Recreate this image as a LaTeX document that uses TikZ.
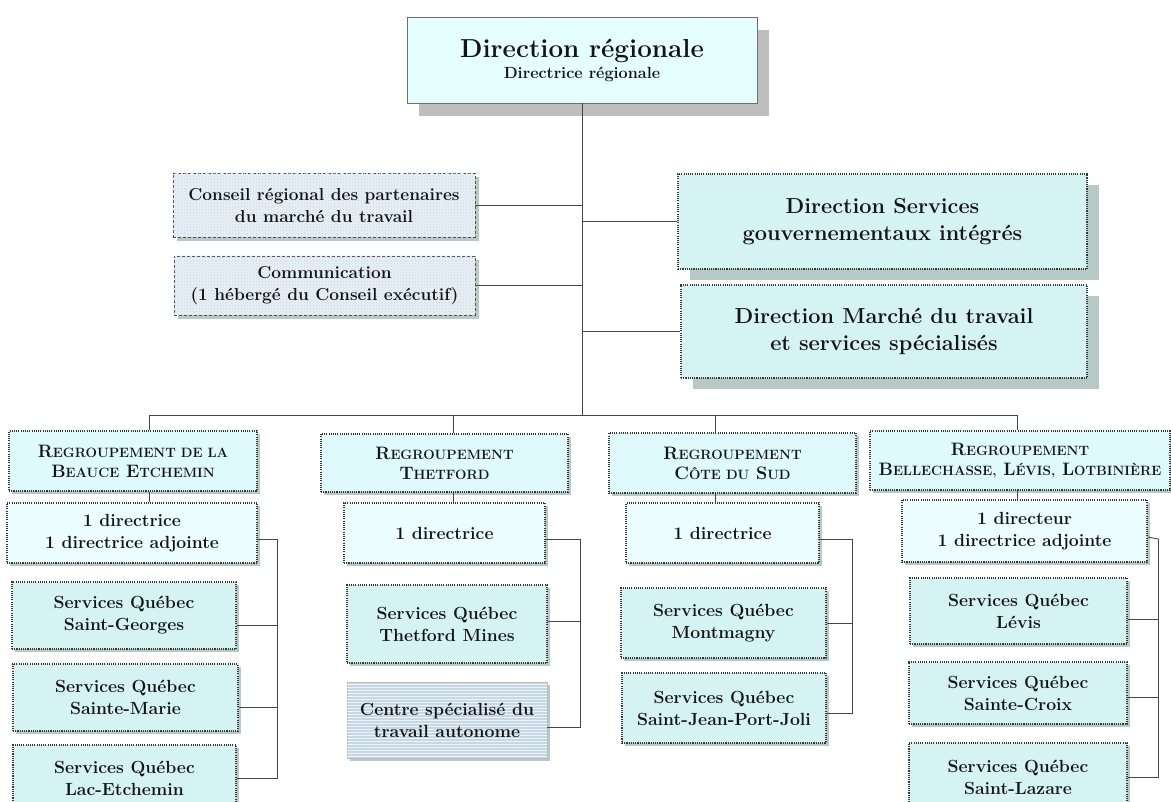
\documentclass[tikz,border=0pt]{standalone}
\usepackage{tikz}
\usetikzlibrary{calc,shadows,patterns}
\definecolor{ink}{RGB}{20,20,20}
\definecolor{linecol}{RGB}{70,70,70}
\definecolor{frame}{RGB}{110,110,110}
\definecolor{topfill}{RGB}{229,255,255}
\definecolor{headfill}{RGB}{222,250,252}
\definecolor{subfill}{RGB}{236,254,255}
\definecolor{svcfill}{RGB}{214,243,243}
\definecolor{sidefill}{RGB}{232,240,245}
\definecolor{dotblue}{RGB}{196,212,228}
\definecolor{stripefill}{RGB}{198,216,230}
\definecolor{greyshade}{RGB}{190,190,190}
\definecolor{greenshade}{RGB}{184,202,198}
\newcommand{\capsm}[1]{{\fontsize{13.5}{20}\selectfont #1}}
\tikzset{
  wire/.style={draw=linecol,line width=0.9pt},
  wh/.style 2 args={minimum width=#1,minimum height=#2},
  box/.style={align=center,text=ink,inner sep=0pt,
    font=\bfseries\fontsize{17.6}{22}\selectfont},
  dots/.style={draw=ink!85,line width=1.1pt,dash pattern=on 1.1pt off 1.1pt},
  topbox/.style={box,draw=frame,fill=topfill,line width=0.7pt,
    drop shadow={shadow xshift=12pt,shadow yshift=-13pt,fill=greyshade,opacity=1}},
  dirbox/.style={box,dots,fill=svcfill,font=\bfseries\fontsize{21.7}{27}\selectfont,
    drop shadow={shadow xshift=12pt,shadow yshift=-11pt,fill=greenshade,opacity=1}},
  sidebox/.style={box,draw=ink!75,line width=0.8pt,dash pattern=on 3pt off 2pt,
    fill=sidefill,postaction={pattern=crosshatch dots,pattern color=dotblue},
    font=\bfseries\fontsize{17.3}{22}\selectfont,
    drop shadow={shadow xshift=4pt,shadow yshift=-4pt,fill=greenshade,opacity=1}},
  headbox/.style={box,dots,fill=headfill,font=\bfseries\fontsize{18}{20}\selectfont,
    drop shadow={shadow xshift=3pt,shadow yshift=-3pt,fill=greenshade,opacity=1}},
  subbox/.style={box,dots,fill=subfill,
    drop shadow={shadow xshift=3pt,shadow yshift=-3pt,fill=greenshade,opacity=1}},
  svcbox/.style={box,dots,fill=svcfill,
    drop shadow={shadow xshift=3pt,shadow yshift=-3pt,fill=greenshade,opacity=1}},
  centrebox/.style={box,draw=stripefill!70!gray,line width=0.6pt,fill=stripefill,
    postaction={pattern=horizontal lines,pattern color=white!70!stripefill},
    drop shadow={shadow xshift=3pt,shadow yshift=-3pt,fill=greenshade,opacity=1}}
}
\begin{document}
\begin{tikzpicture}[x=1pt,y=-1pt]
  \useasboundingbox (0,0) rectangle (1171,802);
  \clip (0,0) rectangle (1171,802);
  % direction
  \node[topbox,wh={350}{86}] (top) at (582,60)
    {{\fontsize{26}{30}\selectfont Direction régionale}\\[-1pt]
     {\fontsize{16.2}{20}\selectfont Directrice régionale}};
  \node[sidebox,wh={302}{64}] (cons) at (324,205)
    {Conseil régional des partenaires\\du marché du travail};
  \node[sidebox,wh={301}{59}] (comm) at (324.5,285.5)
    {Communication\\(1 hébergé du Conseil exécutif)};
  \node[dirbox,wh={409}{95}] (dsg) at (882.5,221.5)
    {Direction Services\\gouvernementaux intégrés};
  \node[dirbox,wh={406}{93}] (dmt) at (884,331.5)
    {Direction Marché du travail\\et services spécialisés};
  % regroupements
  \node[headbox,wh={248}{60}] (g1h) at (133,461)
    {R\capsm{EGROUPEMENT DE LA}\\B\capsm{EAUCE} E\capsm{TCHEMIN}};
  \node[headbox,wh={247}{58}] (g2h) at (444.5,463)
    {R\capsm{EGROUPEMENT}\\T\capsm{HETFORD}};
  \node[headbox,wh={247}{60}] (g3h) at (732.5,463)
    {R\capsm{EGROUPEMENT}\\C\capsm{ÔTE DU} S\capsm{UD}};
  \node[headbox,wh={300}{59}] (g4h) at (1020,460.5)
    {R\capsm{EGROUPEMENT}\\B\capsm{ELLECHASSE,} L\capsm{ÉVIS,} L\capsm{OTBINIÈRE}};
  \node[subbox,wh={250}{60}] (g1s) at (132,533) {1 directrice\\1 directrice adjointe};
  \node[subbox,wh={201}{60}] (g2s) at (444.5,533) {1 directrice};
  \node[subbox,wh={193}{60}] (g3s) at (722.5,533) {1 directrice};
  \node[subbox,wh={245}{62}] (g4s) at (1024.5,531) {1 directeur\\1 directrice adjointe};
  % bureaux
  \node[svcbox,wh={224}{67}] (g1a) at (124,615.5) {Services Québec\\Saint-Georges};
  \node[svcbox,wh={225}{67}] (g1b) at (125.5,697.5) {Services Québec\\Sainte-Marie};
  \node[svcbox,wh={223}{67}] (g1c) at (124.5,778.5) {Services Québec\\Lac-Etchemin};
  \node[svcbox,wh={200}{78}] (g2a) at (447,624) {Services Québec\\Thetford Mines};
  \node[centrebox,wh={200}{76}] (g2b) at (447,720) {Centre spécialisé du\\travail autonome};
  \node[svcbox,wh={205}{70}] (g3a) at (723.5,623) {Services Québec\\Montmagny};
  \node[svcbox,wh={204}{70}] (g3b) at (724,708) {Services Québec\\Saint-Jean-Port-Joli};
  \node[svcbox,wh={217}{66}] (g4a) at (1018.5,611) {Services Québec\\Lévis};
  \node[svcbox,wh={218}{62}] (g4b) at (1018,693) {Services Québec\\Sainte-Croix};
  \node[svcbox,wh={218}{69}] (g4c) at (1018,777.5) {Services Québec\\Saint-Lazare};
  % liens
  \coordinate (busL) at (149,415);
  \coordinate (busR) at (1017,415);
  \draw[wire] (top.south) -- (top.south |- busL);
  \draw[wire] (busL) -- (busR);
  \foreach \n in {cons,comm} {\draw[wire] (\n.east) -- (\n.east -| top.south);}
  \foreach \n in {dsg,dmt} {\draw[wire] (\n.west) -- (\n.west -| top.south);}
  \foreach \g/\x in {g1/149,g2/453,g3/715,g4/1017} {
    \coordinate (\g d) at (\x,415);
    \draw[wire] (\g d) -- (\g d |- \g h.north);
    \draw[wire] (\g d |- \g h.south) -- (\g d |- \g s.north);
  }
  \coordinate (g1k) at (277,539);
  \coordinate (g2k) at (580,539);
  \coordinate (g3k) at (852,539);
  \coordinate (g4k) at (1158,539);
  \foreach \g in {g1,g2,g3,g4} {\draw[wire] ([yshift=-6pt]\g s.east) -- (\g k);}
  \draw[wire] ([yshift=-10pt]g1a.east) -| (g1k);
  \draw[wire] ([yshift=-10pt]g1b.east) -| (g1k);
  \draw[wire] (g1c.east) -| (g1k);
  \draw[wire] ([yshift=3pt]g2a.east) -| (g2k);
  \draw[wire] ([yshift=-7pt]g2b.east) -| (g2k);
  \draw[wire] (g3a.east) -| (g3k);
  \draw[wire] ([yshift=-5pt]g3b.east) -| (g3k);
  \draw[wire] ([yshift=-8pt]g4a.east) -| (g4k);
  \draw[wire] ([yshift=-4pt]g4b.east) -| (g4k);
  \draw[wire] (g4c.east) -| (g4k);
\end{tikzpicture}
\end{document}
